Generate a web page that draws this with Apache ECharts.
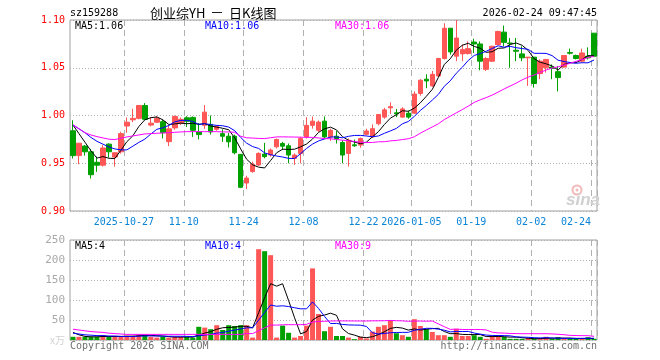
<!DOCTYPE html>
<html><head><meta charset="utf-8">
<script src="https://cdn.jsdelivr.net/npm/echarts@6/dist/echarts.min.js"></script>
<style>html,body{margin:0;padding:0;background:#fff}#c{width:660px;height:360px}</style>
</head><body><div id="c"></div>
<script>
// ---- data ----
const dates = [
 '2025-10-14','2025-10-15','2025-10-16','2025-10-17',
 '2025-10-20','2025-10-21','2025-10-22','2025-10-23','2025-10-24',
 '2025-10-27','2025-10-28','2025-10-29','2025-10-30','2025-10-31',
 '2025-11-03','2025-11-04','2025-11-05','2025-11-06','2025-11-07',
 '2025-11-10','2025-11-11','2025-11-12','2025-11-13','2025-11-14',
 '2025-11-17','2025-11-18','2025-11-19','2025-11-20','2025-11-21',
 '2025-11-24','2025-11-25','2025-11-26','2025-11-27','2025-11-28',
 '2025-12-01','2025-12-02','2025-12-03','2025-12-04','2025-12-05',
 '2025-12-08','2025-12-09','2025-12-10','2025-12-11','2025-12-12',
 '2025-12-15','2025-12-16','2025-12-17','2025-12-18','2025-12-19',
 '2025-12-22','2025-12-23','2025-12-24','2025-12-25','2025-12-26',
 '2025-12-29','2025-12-30','2025-12-31',
 '2026-01-05','2026-01-06','2026-01-07','2026-01-08','2026-01-09',
 '2026-01-12','2026-01-13','2026-01-14','2026-01-15','2026-01-16',
 '2026-01-19','2026-01-20','2026-01-21','2026-01-22','2026-01-23',
 '2026-01-26','2026-01-27','2026-01-28','2026-01-29','2026-01-30',
 '2026-02-02','2026-02-03','2026-02-04','2026-02-05','2026-02-06',
 '2026-02-09','2026-02-10','2026-02-11','2026-02-12','2026-02-13',
 '2026-02-24'
];
const opens = [0.984,0.958,0.968,0.962,0.951,0.948,0.970,0.9565,0.962,0.989,
 0.9955,0.997,1.0105,0.990,0.993,0.9935,0.9726,0.987,0.992,0.9976,
 0.998,0.9828,0.9897,0.9907,0.9855,0.981,0.9783,0.9783,0.9593,0.9293,
 0.9413,0.9482,0.9596,0.9586,0.9672,0.9707,0.9683,0.9552,0.9603,0.9776,
 0.9897,0.9845,0.9941,0.9776,0.9783,0.9717,0.9603,0.9693,0.969,0.9803,
 0.9776,0.9914,0.9983,1.008,1.0028,0.9983,1.0024,1.0024,1.0231,1.038,
 1.031,1.0414,1.0597,1.0914,1.0621,1.0645,1.0649,1.0769,1.0749,1.0483,
 1.0569,1.0742,1.0873,1.0759,1.0683,1.0645,1.0604,1.0611,1.0438,1.050,
 1.0507,1.0459,1.0507,1.0659,1.0628,1.0569,1.0621,1.0862];
const closes = [0.958,0.971,0.962,0.938,0.948,0.966,0.962,0.961,0.981,0.993,
 0.997,1.0105,0.996,0.992,0.997,0.982,0.986,0.999,0.996,0.994,
 0.9845,0.980,1.0035,0.9828,0.9885,0.9783,0.9724,0.961,0.9248,0.9345,
 0.9489,0.9603,0.9569,0.9638,0.9748,0.9679,0.9586,0.9586,0.9759,0.9897,
 0.9941,0.9931,0.9776,0.9845,0.9755,0.9586,0.9741,0.9683,0.9759,0.9838,
 0.9862,1.001,1.0059,1.0093,1.0017,1.0069,0.9983,1.0224,1.0369,1.0362,
 1.0431,1.0597,1.0914,1.0666,1.0811,1.069,1.070,1.0749,1.0569,1.0597,
 1.0725,1.088,1.0766,1.0752,1.0673,1.0604,1.0611,1.0335,1.0569,1.0587,
 1.0493,1.0397,1.0628,1.0652,1.0597,1.0655,1.0604,1.0621];
const highs = [0.995,0.971,0.969,0.965,0.957,0.969,0.971,0.961,0.983,0.998,
 1.007,1.011,1.013,0.998,0.9995,0.996,0.990,1.000,0.998,0.9993,
 0.999,0.992,1.011,1.000,0.990,0.9855,0.9817,0.980,0.9593,0.9369,
 0.9517,0.9614,0.9714,0.9655,0.9759,0.9724,0.9707,0.9603,0.9776,0.9983,
 0.999,0.9948,0.999,0.9862,0.9838,0.9741,0.9759,0.9748,0.9769,0.9862,
 0.9907,1.0017,1.008,1.0138,1.0069,1.0086,1.0052,1.0252,1.038,1.0431,
 1.0466,1.0604,1.0966,1.0914,1.100,1.0742,1.0776,1.0804,1.0776,1.061,
 1.073,1.0887,1.0942,1.0811,1.0811,1.0725,1.0611,1.0611,1.0587,1.0593,
 1.0535,1.0518,1.0631,1.070,1.0638,1.070,1.0714,1.0862];
const lows = [0.955,0.949,0.958,0.934,0.941,0.9465,0.956,0.9465,0.960,0.982,
 0.993,0.996,0.9955,0.9885,0.992,0.976,0.968,0.985,0.990,0.988,
 0.9776,0.975,0.986,0.980,0.984,0.9724,0.9665,0.9593,0.924,0.923,
 0.940,0.9472,0.9552,0.957,0.9655,0.9638,0.950,0.9483,0.950,0.9759,
 0.9862,0.9828,0.9759,0.9734,0.9707,0.950,0.9465,0.9672,0.9662,0.9793,
 0.9765,0.9897,0.9966,1.0017,0.9983,0.9976,0.9966,1.0017,1.0207,1.0286,
 1.030,1.0404,1.0586,1.0638,1.0569,1.0569,1.0638,1.0655,1.0473,1.0466,
 1.056,1.0735,1.0725,1.050,1.0569,1.0569,1.031,1.0293,1.038,1.0449,
 1.038,1.0252,1.050,1.0638,1.0587,1.0562,1.0587,1.0611];
const volumes = [8,8,8,8,8,12,8,8,8,11,
 11,14,14,8,6,8,6,8,8,8,
 6,33,31,27,37,25,37,35,37,37,
 6,227,222,212,6,36,18,6,10,36,
 179,65,22,33,10,10,6,2,8,4,
 21,33,37,50,17,12,8,52,35,27,
 20,12,12,8,28,10,10,12,8,3,
 10,12,8,3,3,3,5,3,3,8,
 3,7,3,3,3,3,7,3];
// moving-average values before enough history exists
const priceMa5Head = [0.990,0.981,0.972,0.963];
const priceMa10Head = [0.990,0.986,0.982,0.977,0.973,0.970,0.967,0.965,0.964];
const priceMa30Head = [0.9903,0.9862,0.982,0.9796,0.9779,0.9765,0.9752,0.9748,0.9762,0.9776,
 0.9786,0.9796,0.9807,0.981,0.9814,0.9817,0.982,0.9824,0.9828,0.9831,
 0.9831,0.9831,0.9831,0.9831,0.9831,0.9828,0.9828,0.9824,0.9783];
const volMa5Head = [19,13,9,8];
const volMa10Head = [17,15,13,12,11,11,10,10,9];
const volMa30Head = [27,25,23,21,20,19,17,16,15,14,14,14,14,14,14,14,14,14,14,14,14,14,14,14,14,14,14,14,14];
const tickIdx = [9,19,29,39,49,57,67,77,87];
const tickText = ['2025-10-27','11-10','11-24','12-08','12-22','2026-01-05','01-19','02-02','02-24'];
const priceTicks = [0.90,0.95,1.00,1.05,1.10];
const volTicks = [0,50,100,150,200,250];
const headerCode = 'sz159288';
const titleParts = ['创业综YH', '一', '日K线图'];
const headerTime = '2026-02-24 09:47:45';
const priceLegend = ['MA5:1.06','MA10:1.06','MA30:1.06'];
const volLegend = ['MA5:4','MA10:4','MA30:9'];

// ---- build ----
function movingAvg(vals, n, head) {
  return vals.map((v, i) => {
    if (i < n - 1) return head[i];
    let s = 0; for (let k = i - n + 1; k <= i; k++) s += vals[k];
    return s / n;
  });
}
const UP = '#ff5656', DOWN = '#00a000';
const MONO = '"DejaVu Sans Mono", monospace';
const CJK = '"Noto Sans CJK SC"';
const kData = dates.map((d, i) => [opens[i], closes[i], lows[i], highs[i]]);
const volData = volumes.map((v, i) => ({value: v, itemStyle: {color: closes[i] >= opens[i] ? UP : DOWN}}));
const showTick = (idx) => tickIdx.indexOf(idx) >= 0;
const lastIdx = dates.length - 1;
const lineS = (name, data, color, xi, yi) => ({
  type: 'line', name, data, xAxisIndex: xi, yAxisIndex: yi, symbol: 'none', smooth: false,
  lineStyle: {width: 1, color}, itemStyle: {color}, silent: true, z: 5
});
const xCommon = (gi, showLabels) => ({
  type: 'category', gridIndex: gi, data: dates, boundaryGap: true,
  axisLine: {show: false}, axisTick: {show: false},
  axisLabel: showLabels ? {
    show: true, interval: (i) => showTick(i), margin: 6,
    formatter: (v, i) => {
      const t = tickText[tickIdx.indexOf(i)] || '';
      return i === lastIdx ? '{e|' + t + '}' : '{n|' + t + '}';
    },
    color: '#0a84d6', fontFamily: MONO, fontSize: 10,
    rich: {
      n: {color: '#0a84d6', fontFamily: MONO, fontSize: 10, padding: [0, 6, 0, 0]},
      e: {color: '#0a84d6', fontFamily: MONO, fontSize: 10, padding: [0, 3, 0, 0]}
    },
    alignMaxLabel: 'right'
  } : {show: false},
  splitLine: {show: true, interval: (i) => showTick(i), lineStyle: {color: '#b0b0b0', type: [6, 4], width: 1}}
});

const chart = echarts.init(document.getElementById('c'), null, {renderer: 'canvas'});
const textEl = (x, y, text, fill, align, font) => ({
  type: 'text', x, y, silent: true, z: 100,
  style: {text, fill, font: font || ('10px ' + MONO), align: align || 'left', verticalAlign: 'middle'}
});
chart.setOption({
  animation: false,
  backgroundColor: '#fff',
  grid: [
    {left: 70, top: 20, width: 527, height: 191, show: true, borderColor: '#a0a0a0', borderWidth: 1, backgroundColor: 'transparent'},
    {left: 70, top: 240, width: 527, height: 100, show: true, borderColor: '#a0a0a0', borderWidth: 1, backgroundColor: 'transparent'}
  ],
  xAxis: [xCommon(0, true), xCommon(1, false)],
  yAxis: [
    {type: 'value', gridIndex: 0, min: priceTicks[0], max: priceTicks[priceTicks.length - 1], interval: 0.05,
     axisLine: {show: false}, axisTick: {show: false},
     axisLabel: {color: '#ff0000', fontFamily: MONO, fontSize: 10, margin: 5, formatter: (v) => v.toFixed(2)},
     splitLine: {show: true, lineStyle: {color: '#b0b0b0', type: [1, 2], width: 1}}},
    {type: 'value', gridIndex: 1, min: volTicks[0], max: volTicks[volTicks.length - 1], interval: 50,
     axisLine: {show: false}, axisTick: {show: false},
     axisLabel: {fontFamily: MONO, fontSize: 10, margin: 5,
       formatter: (v) => v === 0 ? '{u|x万}' : '{g|' + v + '}',
       rich: {g: {color: '#a8a8a8', fontFamily: MONO, fontSize: 11}, u: {color: '#d0d0d0', fontSize: 10, fontFamily: CJK}}},
     splitLine: {show: true, lineStyle: {color: '#b0b0b0', type: [1, 2], width: 1}}}
  ],
  series: [
    {type: 'candlestick', name: 'K', data: kData, xAxisIndex: 0, yAxisIndex: 0, barWidth: 5, silent: true,
     itemStyle: {color: UP, color0: DOWN, borderColor: UP, borderColor0: DOWN, borderWidth: 1}},
    lineS('MA5', movingAvg(closes, 5, priceMa5Head), '#000000', 0, 0),
    lineS('MA10', movingAvg(closes, 10, priceMa10Head), '#0000ff', 0, 0),
    lineS('MA30', movingAvg(closes, 30, priceMa30Head), '#ff00ff', 0, 0),
    {type: 'bar', name: 'VOL', data: volData, xAxisIndex: 1, yAxisIndex: 1, barWidth: 5, silent: true},
    lineS('VMA5', movingAvg(volumes, 5, volMa5Head), '#000000', 1, 1),
    lineS('VMA10', movingAvg(volumes, 10, volMa10Head), '#0000ff', 1, 1),
    lineS('VMA30', movingAvg(volumes, 30, volMa30Head), '#ff00ff', 1, 1)
  ],
  graphic: [
    textEl(70, 13, headerCode, '#000'),
    textEl(150, 13, titleParts[0], '#000', 'left', '13px ' + CJK),
    textEl(217, 13, titleParts[1], '#000', 'center', '11px ' + CJK),
    textEl(229, 13, titleParts[2], '#000', 'left', '13px ' + CJK),
    textEl(597, 13, headerTime, '#000', 'right'),
    textEl(75, 26, priceLegend[0], '#000'),
    textEl(205, 26, priceLegend[1], '#0000ff'),
    textEl(335, 26, priceLegend[2], '#ff00ff'),
    textEl(75, 246.5, volLegend[0], '#000'),
    textEl(205, 246.5, volLegend[1], '#0000ff'),
    textEl(335, 246.5, volLegend[2], '#ff00ff'),
    textEl(70, 346, 'Copyright 2026 SINA.COM', '#707070'),
    textEl(597, 346, 'http://finance.sina.com.cn', '#707070', 'right'),
    {type: 'circle', shape: {cx: 577, cy: 190, r: 4.5}, silent: true, z: 1,
     style: {fill: 'none', stroke: '#f2b8b8', lineWidth: 2}},
    {type: 'circle', shape: {cx: 577, cy: 190, r: 1.5}, silent: true, z: 1,
     style: {fill: '#f2b8b8'}},
    textEl(566, 200, 'sina', '#d0d0d0', 'left', 'italic bold 17px "Liberation Sans"')
  ]
});
</script>
</body></html>
